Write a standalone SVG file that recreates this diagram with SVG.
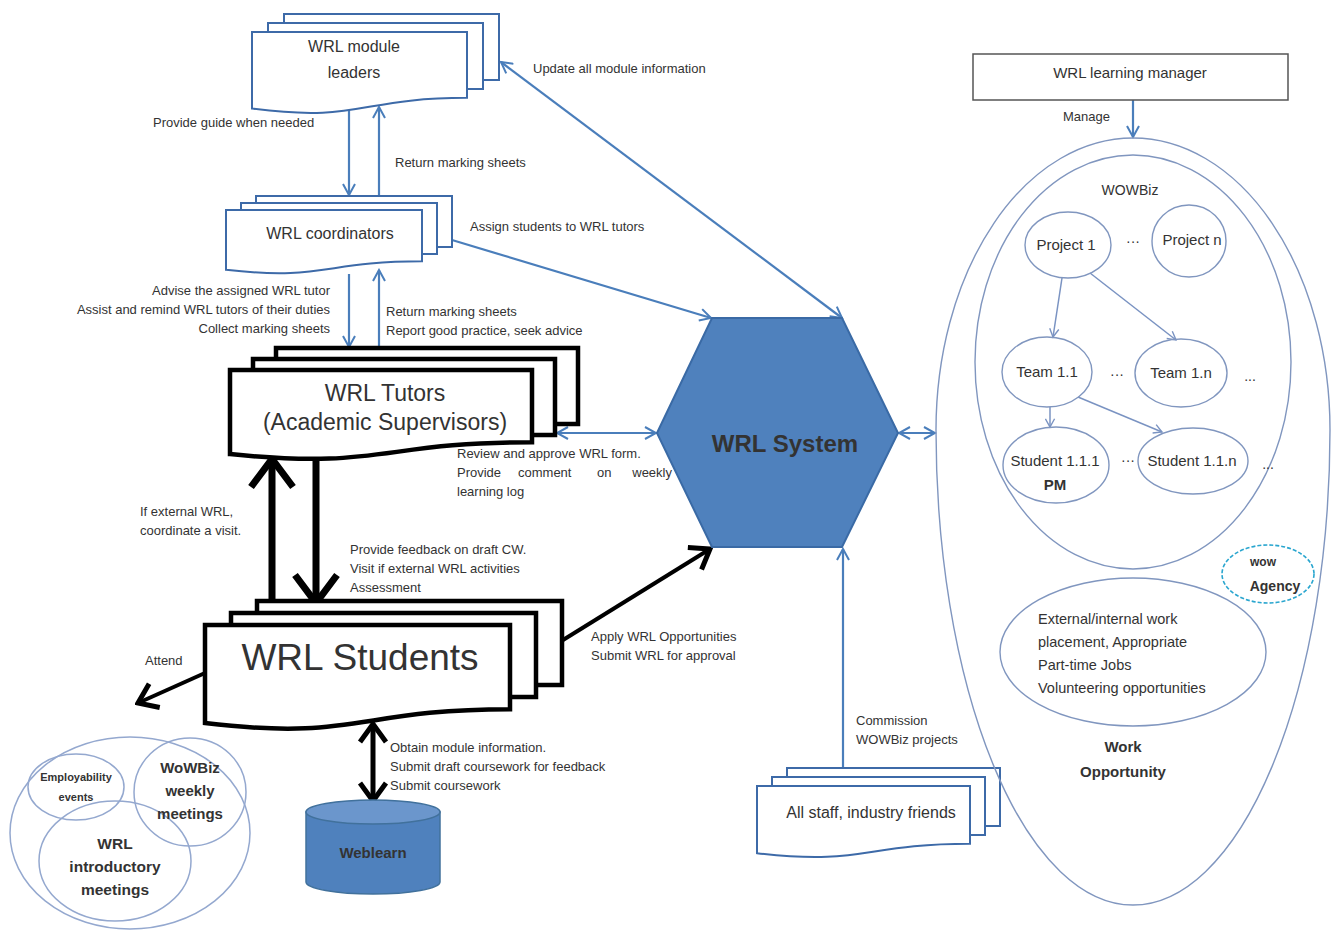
<svg xmlns="http://www.w3.org/2000/svg" width="1339" height="933" viewBox="0 0 1339 933">
<style>
text{font-family:"Liberation Sans",Arial,sans-serif;fill:#333}
.lbl{font-size:13px}
.bdoc{fill:#fff;stroke:#3d6aa8;stroke-width:2}
.kdoc{fill:#fff;stroke:#000;stroke-width:4.5;stroke-linejoin:miter}
.bl{fill:none;stroke:#4a7ebb;stroke-width:2.2}
.bk{fill:none;stroke:#000}
.el{fill:none;stroke:#8096bf;stroke-width:1.4}
.in{font-size:15px;text-anchor:middle}
.ctr{text-anchor:middle}
.b{font-weight:bold}
</style>
<defs>
<marker id="ba" viewBox="0 0 14 14" refX="12" refY="7" markerWidth="14" markerHeight="14" markerUnits="userSpaceOnUse" orient="auto-start-reverse">
<path d="M1,1 L12,7 L1,13" fill="none" stroke="#4a7ebb" stroke-width="2"/>
</marker>
<marker id="ga" viewBox="0 0 12 12" refX="10" refY="6" markerWidth="11" markerHeight="11" markerUnits="userSpaceOnUse" orient="auto">
<path d="M1,1 L10,6 L1,11" fill="none" stroke="#7a93c2" stroke-width="1.5"/>
</marker>
<marker id="kbig" viewBox="0 0 36 50" refX="32" refY="25" markerWidth="36" markerHeight="50" markerUnits="userSpaceOnUse" orient="auto-start-reverse">
<path d="M4,4 L32,25 L4,46" fill="none" stroke="#000" stroke-width="7"/>
</marker>
<marker id="kmed" viewBox="0 0 24 32" refX="21" refY="16" markerWidth="24" markerHeight="32" markerUnits="userSpaceOnUse" orient="auto-start-reverse">
<path d="M3,3 L21,16 L3,29" fill="none" stroke="#000" stroke-width="5"/>
</marker>
</defs>
<rect width="1339" height="933" fill="#fff"/>

<g id="connectors">
<line class="bl" x1="349" y1="110" x2="349" y2="195" marker-end="url(#ba)"/>
<line class="bl" x1="379" y1="196" x2="379" y2="107" marker-end="url(#ba)"/>
<line class="bl" x1="349" y1="274" x2="349" y2="347" marker-end="url(#ba)"/>
<line class="bl" x1="379" y1="348" x2="379" y2="270" marker-end="url(#ba)"/>
<line class="bl" stroke-width="1.6" x1="501" y1="62" x2="842" y2="318" marker-start="url(#ba)" marker-end="url(#ba)"/>
<line class="bl" stroke-width="2.6" x1="452" y1="240" x2="711" y2="318" marker-end="url(#ba)"/>
<line class="bl" x1="557" y1="433" x2="656" y2="433" marker-start="url(#ba)" marker-end="url(#ba)"/>
<line class="bl" x1="899" y1="433" x2="935" y2="433" marker-start="url(#ba)" marker-end="url(#ba)"/>
<line class="bl" stroke-width="2.6" x1="843" y1="768" x2="843" y2="549" marker-end="url(#ba)"/>
<line class="bl" stroke-width="2.6" x1="1133" y1="100" x2="1133" y2="137" marker-end="url(#ba)"/>
<line class="bk" stroke-width="7" x1="272" y1="601" x2="272" y2="459" marker-end="url(#kbig)"/>
<line class="bk" stroke-width="7" x1="316" y1="455" x2="316" y2="603" marker-end="url(#kbig)"/>
<line class="bk" stroke-width="4" x1="563" y1="640" x2="710" y2="549" marker-end="url(#kmed)"/>
<line class="bk" stroke-width="4" x1="205" y1="673" x2="138" y2="703" marker-end="url(#kmed)"/>
<line class="bk" stroke-width="5" x1="373" y1="724" x2="373" y2="801" marker-start="url(#kmed)" marker-end="url(#kmed)"/>
<line stroke="#7a93c2" stroke-width="1.5" x1="1062" y1="278" x2="1053" y2="337" marker-end="url(#ga)"/>
<line stroke="#7a93c2" stroke-width="1.5" x1="1090" y1="273" x2="1176" y2="340" marker-end="url(#ga)"/>
<line stroke="#7a93c2" stroke-width="1.5" x1="1050" y1="407" x2="1050" y2="427" marker-end="url(#ga)"/>
<line stroke="#7a93c2" stroke-width="1.5" x1="1078" y1="397" x2="1162" y2="432" marker-end="url(#ga)"/>
<text class="lbl" x="533" y="73">Update all module information</text>
<text class="lbl" x="153" y="127">Provide guide when needed</text>
<text class="lbl" x="395" y="167">Return marking sheets</text>
<text class="lbl" x="470" y="231">Assign students to WRL tutors</text>
<text class="lbl" x="330" y="295" text-anchor="end">Advise the assigned WRL tutor</text>
<text class="lbl" x="330" y="314" text-anchor="end">Assist and remind WRL tutors of their duties</text>
<text class="lbl" x="330" y="333" text-anchor="end">Collect marking sheets</text>
<text class="lbl" x="386" y="316">Return marking sheets</text>
<text class="lbl" x="386" y="335">Report good practice, seek advice</text>
<text class="lbl" x="457" y="458">Review and approve WRL form.</text>
<text class="lbl" x="457" y="477">Provide</text>
<text class="lbl" x="518" y="477">comment</text>
<text class="lbl" x="597" y="477">on</text>
<text class="lbl" x="672" y="477" text-anchor="end">weekly</text>
<text class="lbl" x="457" y="496">learning log</text>
<text class="lbl" x="140" y="516">If external WRL,</text>
<text class="lbl" x="140" y="535">coordinate a visit.</text>
<text class="lbl" x="350" y="554">Provide feedback on draft CW.</text>
<text class="lbl" x="350" y="573">Visit if external WRL activities</text>
<text class="lbl" x="350" y="592">Assessment</text>
<text class="lbl" x="145" y="665">Attend</text>
<text class="lbl" x="591" y="641">Apply WRL Opportunities</text>
<text class="lbl" x="591" y="660">Submit WRL for approval</text>
<text class="lbl" x="390" y="752">Obtain module information.</text>
<text class="lbl" x="390" y="771">Submit draft coursework for feedback</text>
<text class="lbl" x="390" y="790">Submit coursework</text>
<text class="lbl" x="856" y="725">Commission</text>
<text class="lbl" x="856" y="744">WOWBiz projects</text>
<text class="lbl" x="1063" y="121">Manage</text>
</g>

<g id="module-leaders">
<rect class="bdoc" x="284" y="14" width="215" height="66"/>
<rect class="bdoc" x="268" y="23" width="215" height="66"/>
<path class="bdoc" d="M252,32 H467 V97.8 C359.5,97.8 359.5,122.9 252,108.6 Z"/>
<text class="ctr" x="354" y="52" font-size="16">WRL module</text>
<text class="ctr" x="354" y="78" font-size="16">leaders</text>
</g>

<g id="coordinators">
<rect class="bdoc" x="256" y="196" width="196" height="51"/>
<rect class="bdoc" x="241" y="203" width="196" height="51"/>
<path class="bdoc" d="M226,210 H422 V261.3 C324,261.3 324,280.9 226,269.8 Z"/>
<text class="ctr" x="330" y="239" font-size="16">WRL coordinators</text>
</g>

<g id="tutors">
<rect class="kdoc" x="276" y="348" width="302" height="76"/>
<rect class="kdoc" x="253" y="359" width="302" height="76"/>
<path class="kdoc" d="M230,370 H532 V442.2 C381,442.2 381,469.7 230,454.1 Z"/>
<text class="ctr" x="385" y="401" font-size="23" fill="#222">WRL Tutors</text>
<text class="ctr" x="385" y="430" font-size="23" fill="#222">(Academic Supervisors)</text>
</g>

<g id="students">
<rect class="kdoc" x="257" y="601" width="305" height="84"/>
<rect class="kdoc" x="231" y="613" width="305" height="84"/>
<path class="kdoc" d="M205,625 H510 V709.2 C357.5,709.2 357.5,741.3 205,723.1 Z"/>
<text class="ctr" x="360" y="670" font-size="37" fill="#222">WRL Students</text>
</g>

<g id="wrl-system">
<polygon points="657,433 712,318 842,318 898,433 842,547 712,547" fill="#4f81bd" stroke="#3a6aa5" stroke-width="2"/>
<text class="ctr b" x="785" y="452" font-size="24" fill="#0f1a2c">WRL System</text>
</g>

<g id="weblearn">
<path d="M306,812 V882 A67,12 0 0 0 440,882 V812 Z" fill="#4f81bd" stroke="#41719c" stroke-width="1.5"/>
<ellipse cx="373" cy="812" rx="67" ry="12" fill="#6b96cc" stroke="#41719c" stroke-width="1.5"/>
<text class="ctr b" x="373" y="858" font-size="15" fill="#1f3864">Weblearn</text>
</g>

<g id="events">
<ellipse cx="130" cy="833" rx="120" ry="96" fill="#fff" stroke="#94a8cf" stroke-width="1.5"/>
<ellipse cx="76" cy="787" rx="48" ry="33" fill="none" stroke="#94a8cf" stroke-width="1.5"/>
<ellipse cx="190" cy="792" rx="56" ry="54" fill="none" stroke="#94a8cf" stroke-width="1.5"/>
<ellipse cx="115" cy="861" rx="76" ry="60" fill="none" stroke="#94a8cf" stroke-width="1.5"/>
<text class="ctr b" x="76" y="781" font-size="11">Employability</text>
<text class="ctr b" x="76" y="801" font-size="11">events</text>
<text class="ctr b" x="190" y="773" font-size="15">WoWBiz</text>
<text class="ctr b" x="190" y="796" font-size="15">weekly</text>
<text class="ctr b" x="190" y="819" font-size="15">meetings</text>
<text class="ctr b" x="115" y="849" font-size="15.5">WRL</text>
<text class="ctr b" x="115" y="872" font-size="15.5">introductory</text>
<text class="ctr b" x="115" y="895" font-size="15.5">meetings</text>
</g>

<g id="staff">
<rect class="bdoc" x="787" y="768" width="213" height="58"/>
<rect class="bdoc" x="772" y="777" width="213" height="58"/>
<path class="bdoc" d="M757,786 H970 V843.7 C863.5,843.7 863.5,865.8 757,853.2 Z"/>
<text class="ctr" x="871" y="818" font-size="16">All staff, industry friends</text>
</g>

<g id="learning-manager">
<rect x="973" y="54" width="315" height="46" fill="#fff" stroke="#555" stroke-width="1.5"/>
<text class="ctr" x="1130" y="78" font-size="15">WRL learning manager</text>
</g>

<g id="work-opportunity">
<path class="el" d="M936,430 A197,292 0 0 1 1330,430 A197,475 0 0 1 936,430 Z"/>
<text class="ctr b" x="1123" y="752" font-size="15">Work</text>
<text class="ctr b" x="1123" y="777" font-size="15">Opportunity</text>
</g>

<g id="wowbiz">
<ellipse class="el" cx="1133" cy="362" rx="158" ry="207"/>
<text class="ctr" x="1130" y="195" font-size="14">WOWBiz</text>
<text class="ctr" x="1133" y="246" font-size="14">···</text>
<text class="ctr" x="1117" y="379" font-size="14">···</text>
<text class="ctr" x="1250" y="381" font-size="14">...</text>
<text class="ctr" x="1128" y="465" font-size="14">···</text>
<text class="ctr" x="1268" y="469" font-size="14">...</text>
</g>
<g id="project-1"><ellipse class="el" cx="1068" cy="245" rx="43" ry="33"/><text class="in" x="1066" y="250">Project 1</text></g>
<g id="project-n"><ellipse class="el" cx="1189" cy="241" rx="37" ry="36"/><text class="in" x="1192" y="245">Project n</text></g>
<g id="team-1-1"><ellipse class="el" cx="1047" cy="372" rx="45" ry="35"/><text class="in" x="1047" y="377">Team 1.1</text></g>
<g id="team-1-n"><ellipse class="el" cx="1181" cy="373" rx="46" ry="34"/><text class="in" x="1181" y="378">Team 1.n</text></g>
<g id="student-1-1-1"><ellipse class="el" cx="1056" cy="465" rx="53" ry="38"/><text class="in" x="1055" y="466">Student 1.1.1</text><text class="in b" x="1055" y="490">PM</text></g>
<g id="student-1-1-n"><ellipse class="el" cx="1193" cy="461" rx="55" ry="33"/><text class="in" x="1192" y="466">Student 1.1.n</text></g>

<g id="placements">
<ellipse class="el" cx="1133" cy="652" rx="133" ry="74"/>
<text x="1038" y="624" font-size="14.5">External/internal work</text>
<text x="1038" y="647" font-size="14.5">placement, Appropriate</text>
<text x="1038" y="670" font-size="14.5">Part-time Jobs</text>
<text x="1038" y="693" font-size="14.5">Volunteering opportunities</text>
</g>

<g id="wow-agency">
<ellipse cx="1268" cy="574" rx="46" ry="29" fill="none" stroke="#2aa6cf" stroke-width="1.6" stroke-dasharray="4,2"/>
<text class="ctr b" x="1263" y="566" font-size="12">wow</text>
<text class="ctr b" x="1275" y="591" font-size="14">Agency</text>
</g>
</svg>
